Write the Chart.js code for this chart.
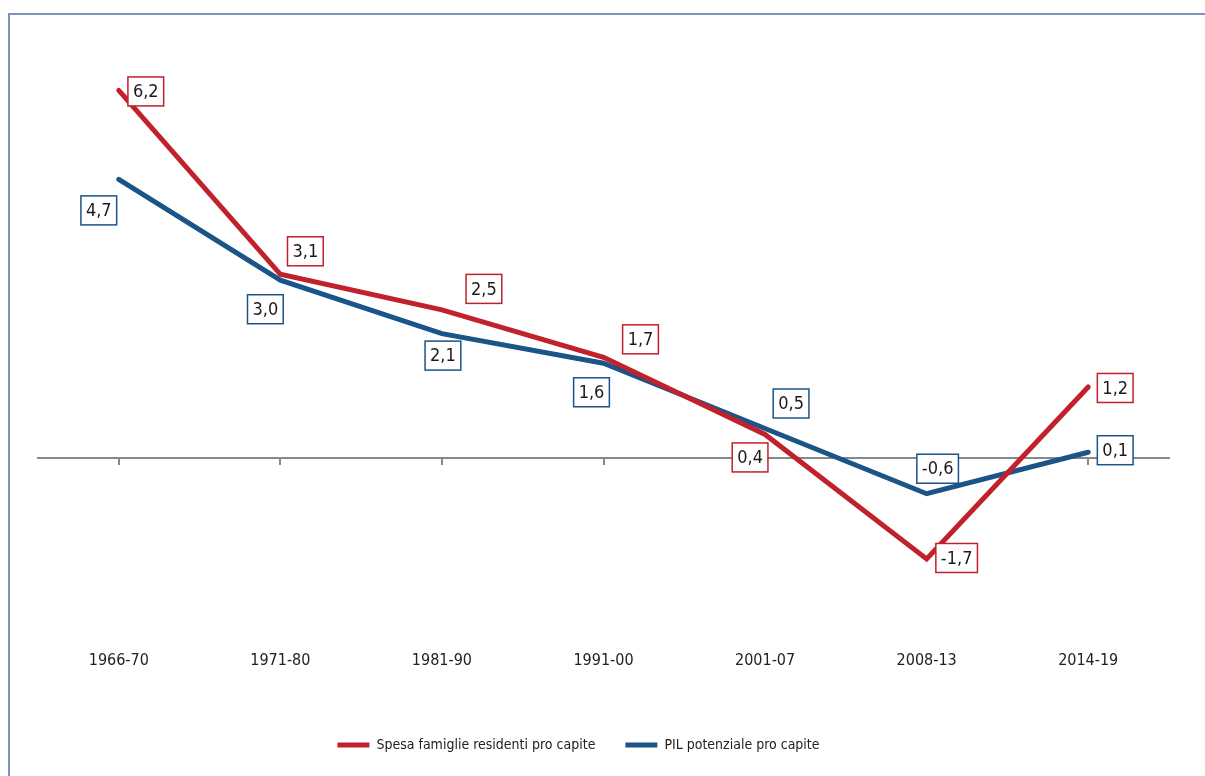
<!DOCTYPE html>
<html>
<head>
<meta charset="utf-8">
<script src="https://cdn.jsdelivr.net/npm/chart.js@4"></script>
<style>
  html, body { margin: 0; padding: 0; background: #fff; }
  #wrap { position: relative; width: 1205px; height: 776px; overflow: hidden; }
  #frame { position: absolute; left: 8px; top: 13px; width: 1300px; height: 900px;
           border-left: 2px solid #7d93bd; border-top: 2px solid #7d93bd; }
  canvas { position: absolute; left: 0; top: 0; }
</style>
</head>
<body>
<div id="wrap">
  <div id="frame"></div>
  <canvas id="chart" width="1205" height="776"></canvas>
</div>
<script>
// dati
const periodi = ['1966-70', '1971-80', '1981-90', '1991-00', '2001-07', '2008-13', '2014-19'];
const spesaFamiglie = [6.2, 3.1, 2.5, 1.7, 0.4, -1.7, 1.2];
const pilPotenziale = [4.7, 3.0, 2.1, 1.6, 0.5, -0.6, 0.1];

const ROSSO = '#c1212b';
const BLU = '#1b5488';
const FONT = '"Liberation Sans Narrow", "DejaVu Sans Condensed", sans-serif';

// spostamento delle etichette rispetto al punto (px)
const offsetRosso = [[27, 1], [25, -23], [42, -21], [37, -18], [-15, 23], [30, -1], [27, 1]];
const offsetBlu = [[-20, 31], [-15, 29], [1, 22], [-12, 29], [26, -25], [11, -25], [27, -2]];

const fmt = v => v.toFixed(1).replace('.', ',');

const etichette = {
  id: 'etichette',
  afterInit(chart) {
    // la legenda nell'originale non è centrata: la sposto un po' a sinistra
    const disegna = chart.legend.draw.bind(chart.legend);
    chart.legend.draw = function () {
      this.ctx.save();
      this.ctx.translate(-25, 0);
      disegna();
      this.ctx.restore();
    };
  },
  afterDatasetsDraw(chart) {
    const ctx = chart.ctx;
    ctx.save();
    ctx.font = '18px ' + FONT;
    ctx.textAlign = 'center';
    ctx.textBaseline = 'middle';
    chart.data.datasets.forEach((ds, di) => {
      const meta = chart.getDatasetMeta(di);
      const offs = di === 0 ? offsetRosso : offsetBlu;
      meta.data.forEach((pt, i) => {
        const txt = fmt(ds.data[i]);
        const w = ctx.measureText(txt).width + 10;
        const h = 29;
        const cx = pt.x + offs[i][0];
        const cy = pt.y + offs[i][1];
        ctx.fillStyle = '#fff';
        ctx.fillRect(cx - w / 2, cy - h / 2, w, h);
        ctx.lineWidth = 1.5;
        ctx.strokeStyle = ds.borderColor;
        ctx.strokeRect(cx - w / 2, cy - h / 2, w, h);
        ctx.fillStyle = '#1a1a1a';
        ctx.fillText(txt, cx, cy + 1);
      });
    });
    ctx.restore();
  }
};

new Chart(document.getElementById('chart'), {
  type: 'line',
  data: {
    labels: periodi,
    datasets: [
      {
        label: 'Spesa famiglie residenti pro capite',
        data: spesaFamiglie,
        borderColor: ROSSO,
        backgroundColor: ROSSO,
        borderWidth: 5,
        borderCapStyle: 'round',
        pointRadius: 0,
        tension: 0
      },
      {
        label: 'PIL potenziale pro capite',
        data: pilPotenziale,
        borderColor: BLU,
        backgroundColor: BLU,
        borderWidth: 5,
        borderCapStyle: 'round',
        pointRadius: 0,
        tension: 0
      }
    ]
  },
  options: {
    responsive: false,
    animation: false,
    layout: { padding: { left: 38, right: 36, top: 43, bottom: 14 } },
    scales: {
      x: {
        offset: true,
        grid: { display: false },
        border: { display: false },
        ticks: { color: '#222', font: { family: FONT, size: 16 }, padding: 1 },
        afterFit(scale) { scale.height = 66; }
      },
      asseZero: {
        type: 'category',
        axis: 'x',
        labels: periodi,
        position: { y: 0 },
        offset: true,
        ticks: { display: false },
        grid: { drawOnChartArea: false, tickLength: 6, color: '#888', lineWidth: 2 },
        border: { color: '#888', width: 2 }
      },
      y: {
        display: false,
        min: -3.1,
        max: 7
      }
    },
    plugins: {
      legend: {
        position: 'bottom',
        labels: {
          usePointStyle: true,
          pointStyle: 'line',
          pointStyleWidth: 32,
          color: '#222',
          font: { family: FONT, size: 14 },
          padding: 30
        }
      },
      tooltip: { enabled: false }
    }
  },
  plugins: [etichette]
});
</script>
</body>
</html>
